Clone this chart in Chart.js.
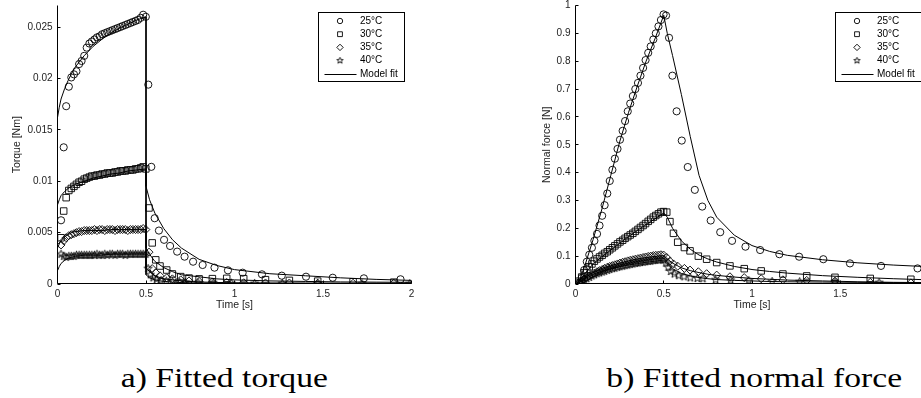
<!DOCTYPE html>
<html>
<head>
<meta charset="utf-8">
<script src="https://cdn.jsdelivr.net/npm/chart.js@4.4.1/dist/chart.umd.min.js"></script>
<style>
  html, body { margin: 0; padding: 0; background: #fff; }
  #wrap { position: relative; width: 921px; height: 398px; overflow: hidden; background: #fff; }
  canvas { position: absolute; top: -2px; }
  #torqueChart { left: 0; }
  #forceChart { left: 470px; }
  .caption {
    position: absolute; top: 364px; height: 28px; line-height: 28px;
    font-family: 'Liberation Serif', 'Times New Roman', serif; font-size: 28px; color: #000;
    white-space: nowrap; transform: scaleX(1.2); transform-origin: center;
  }
</style>
</head>
<body>
<div id="wrap">
  <canvas id="torqueChart" width="470" height="322"></canvas>
  <canvas id="forceChart" width="470" height="322"></canvas>
  <div class="caption" id="capA">a) Fitted torque</div>
  <div class="caption" id="capB">b) Fitted normal force</div>
</div>
<script>
// --- datos ---
const seriesLabels = ['25°C', '30°C', '35°C', '40°C'];
const xTicks = [0, 0.5, 1, 1.5, 2];

// tiempos de carga (comunes) y de relajación (por temperatura)
const loadT = [0.02, 0.035, 0.049, 0.064, 0.078, 0.093, 0.107, 0.122, 0.136, 0.151, 0.165, 0.18, 0.194, 0.209, 0.223, 0.238, 0.252,
  0.267, 0.281, 0.296, 0.31, 0.325, 0.339, 0.354, 0.368, 0.383, 0.397, 0.412, 0.426, 0.441, 0.455, 0.47, 0.484, 0.499];
const decayT25 = [0.513, 0.53, 0.549, 0.573, 0.602, 0.636, 0.676, 0.718, 0.766, 0.82, 0.887, 0.963, 1.046, 1.155, 1.267, 1.404, 1.555, 1.731, 1.938];
const decayT30 = [0.517, 0.535, 0.555, 0.579, 0.617, 0.649, 0.696, 0.743, 0.8, 0.875, 0.956, 1.052, 1.175, 1.31, 1.47, 1.67, 1.9];
const decayT35 = [0.517, 0.535, 0.555, 0.579, 0.617, 0.649, 0.696, 0.743, 0.8, 0.875, 0.956, 1.052, 1.175, 1.31, 1.47, 1.67, 1.9];
const decayT40 = [0.512, 0.525, 0.54, 0.56, 0.585, 0.615, 0.65, 0.69, 0.722, 0.794, 0.879, 0.982, 1.114, 1.27, 1.47, 1.72, 1.99];

// a) torque [Nm]
const torque25Load = [0.0062, 0.0133, 0.0173, 0.0192, 0.0201, 0.0204, 0.0207, 0.0214, 0.0217, 0.0222, 0.0230, 0.0234, 0.0236, 0.0238, 0.0240, 0.0241, 0.0243,
  0.0244, 0.0245, 0.0246, 0.0247, 0.0248, 0.0249, 0.0250, 0.0251, 0.0252, 0.0253, 0.0254, 0.0255, 0.0256, 0.0257, 0.0259, 0.0262, 0.0260];
const torque25Decay = [0.0194, 0.0114, 0.0064, 0.0052, 0.0043, 0.0037, 0.00315, 0.00266, 0.00217, 0.00185, 0.00159, 0.00133, 0.0011, 0.00094, 0.00081, 0.00071, 0.00061, 0.00055, 0.00046];
const torque30Load = [0.0045, 0.0071, 0.0084, 0.0091, 0.0093, 0.0095, 0.0097, 0.0099, 0.0100, 0.0102, 0.0103, 0.0104, 0.0105, 0.0105, 0.0106, 0.0106, 0.0107,
  0.0107, 0.0108, 0.0108, 0.0108, 0.0109, 0.0109, 0.0110, 0.0110, 0.0110, 0.0111, 0.0111, 0.0111, 0.0112, 0.0112, 0.0113, 0.0114, 0.0112];
const torque30Decay = [0.0074, 0.0040, 0.00235, 0.00175, 0.00136, 0.00098, 0.00072, 0.00058, 0.0005, 0.00052, 0.00055, 0.00052, 0.00042, 0.00035, 0.00028, 0.00022, 0.00018];
const torque35Load = [0.0038, 0.0042, 0.0045, 0.0047, 0.0048, 0.0049, 0.0050, 0.0051, 0.0051, 0.0052, 0.0052, 0.0052, 0.0052, 0.0053, 0.0052, 0.0053, 0.0053,
  0.0052, 0.0053, 0.0053, 0.0053, 0.0052, 0.0053, 0.0053, 0.0053, 0.0053, 0.0052, 0.0053, 0.0053, 0.0053, 0.0053, 0.0053, 0.0054, 0.0053];
const torque35Decay = [0.0031, 0.0015, 0.0011, 0.0008, 0.0006, 0.0005, 0.0004, 0.0003, 0.00025, 0.0002, 0.00015, 0.00012, 0.0001, 0.0001, 0.00008, 0.00007, 0.00007];
const torque40Load = [0.0029, 0.0027, 0.0026, 0.0027, 0.0027, 0.0027, 0.0028, 0.0028, 0.0028, 0.0028, 0.0028, 0.0028, 0.0028, 0.0028, 0.0029, 0.0028, 0.0028,
  0.0029, 0.0028, 0.0029, 0.0029, 0.0028, 0.0029, 0.0029, 0.0029, 0.0028, 0.0029, 0.0029, 0.0029, 0.0029, 0.0029, 0.0029, 0.0029, 0.0029];
const torque40Decay = [0.0015, 0.0009, 0.0006, 0.00045, 0.00035, 0.00028, 0.00022, 0.00018, 0.00015, 0.00012, 0.0001, 0.00008, 0.00006, 0.00005, 0.00004, 0.00003, 0.00003];

// ajuste del modelo (torque)
const fitTorqueT = [0, 0.01, 0.02, 0.04, 0.06, 0.08, 0.1, 0.15, 0.2, 0.25, 0.3, 0.35, 0.4, 0.45, 0.5, 0.5, 0.52, 0.55, 0.6, 0.65, 0.7, 0.8, 0.9, 1.0, 1.2, 1.4, 1.6, 1.8, 2.0];
const fitTorque25 = [0.0162, 0.0172, 0.0180, 0.0190, 0.0198, 0.0205, 0.0211, 0.0222, 0.0231, 0.0238, 0.0244, 0.0249, 0.0253, 0.0257, 0.0260,
  0.0095, 0.0082, 0.0069, 0.0054, 0.0043, 0.0035, 0.0024, 0.0018, 0.0014, 0.0010, 0.0008, 0.0006, 0.00045, 0.00035];
const fitTorque30 = [0.0077, 0.0082, 0.0086, 0.0090, 0.0093, 0.0095, 0.0097, 0.0100, 0.0103, 0.0105, 0.0107, 0.0108, 0.0110, 0.0111, 0.0112,
  0.0035, 0.0029, 0.0022, 0.0016, 0.0012, 0.0009, 0.0007, 0.0005, 0.0004, 0.0003, 0.00025, 0.0002, 0.00018, 0.00016];
const fitTorque35 = [0.0035, 0.0039, 0.0042, 0.0046, 0.0048, 0.0050, 0.0051, 0.0052, 0.0052, 0.0052, 0.0053, 0.0053, 0.0053, 0.0053, 0.0053,
  0.0016, 0.0012, 0.0008, 0.0005, 0.0004, 0.0003, 0.0002, 0.00015, 0.00012, 0.0001, 0.0001, 0.00008, 0.00008, 0.00007];
const fitTorque40 = [0.0013, 0.0017, 0.0020, 0.0023, 0.0025, 0.0026, 0.0027, 0.0028, 0.0028, 0.0028, 0.0029, 0.0029, 0.0029, 0.0029, 0.0029,
  0.0009, 0.0006, 0.0004, 0.00025, 0.00018, 0.00014, 0.0001, 0.00008, 0.00007, 0.00006, 0.00005, 0.00005, 0.00004, 0.00004];

// b) fuerza normal [N]
const force25Load = [0.005, 0.022, 0.05, 0.08, 0.105, 0.13, 0.155, 0.18, 0.21, 0.245, 0.283, 0.325, 0.37, 0.41, 0.45, 0.485, 0.518,
  0.55, 0.585, 0.62, 0.648, 0.675, 0.70, 0.722, 0.748, 0.776, 0.804, 0.83, 0.853, 0.878, 0.90, 0.925, 0.948, 0.968];
const force25Decay = [0.964, 0.884, 0.748, 0.62, 0.515, 0.42, 0.338, 0.278, 0.228, 0.186, 0.155, 0.134, 0.122, 0.107, 0.098, 0.089, 0.074, 0.065, 0.056];
const force30Load = [0.01, 0.025, 0.04, 0.052, 0.062, 0.072, 0.082, 0.09, 0.097, 0.103, 0.11, 0.116, 0.123, 0.13, 0.137, 0.144, 0.151,
  0.157, 0.164, 0.17, 0.176, 0.182, 0.189, 0.196, 0.203, 0.21, 0.217, 0.225, 0.232, 0.24, 0.246, 0.252, 0.258, 0.26];
const force30Decay = [0.258, 0.224, 0.182, 0.15, 0.131, 0.119, 0.10, 0.089, 0.077, 0.065, 0.055, 0.047, 0.036, 0.029, 0.024, 0.02, 0.017];
const force35Load = [0.003, 0.01, 0.017, 0.023, 0.029, 0.034, 0.039, 0.044, 0.048, 0.052, 0.056, 0.06, 0.063, 0.066, 0.069, 0.072, 0.075,
  0.078, 0.08, 0.083, 0.085, 0.087, 0.089, 0.091, 0.093, 0.095, 0.097, 0.099, 0.1, 0.102, 0.103, 0.104, 0.105, 0.104];
const force35Decay = [0.095, 0.082, 0.072, 0.064, 0.056, 0.05, 0.044, 0.037, 0.032, 0.026, 0.023, 0.019, 0.015, 0.013, 0.01, 0.006, 0.004];
const force40Load = [0.002, 0.008, 0.014, 0.019, 0.024, 0.029, 0.033, 0.037, 0.04, 0.043, 0.046, 0.049, 0.052, 0.055, 0.057, 0.06, 0.062,
  0.064, 0.066, 0.068, 0.07, 0.072, 0.074, 0.075, 0.077, 0.078, 0.08, 0.081, 0.082, 0.084, 0.085, 0.086, 0.087, 0.086];
const force40Decay = [0.075, 0.06, 0.045, 0.036, 0.03, 0.026, 0.022, 0.02, 0.019, 0.015, 0.014, 0.012, 0.009, 0.008, 0.008, 0.005, 0.004];

// ajuste del modelo (fuerza normal)
const fitForceT = [0, 0.02, 0.05, 0.1, 0.15, 0.2, 0.25, 0.3, 0.35, 0.4, 0.45, 0.5, 0.52, 0.55, 0.6, 0.65, 0.7, 0.75, 0.8, 0.9, 1.0, 1.1, 1.2, 1.4, 1.6, 1.8, 2.0];
const fitForce25 = [0, 0.01, 0.06, 0.16, 0.27, 0.39, 0.51, 0.615, 0.71, 0.80, 0.88, 0.965, 0.90, 0.82, 0.68, 0.53, 0.39, 0.30, 0.24, 0.175, 0.138, 0.117, 0.103, 0.087, 0.076, 0.068, 0.062];
const fitForce30 = [0, 0.008, 0.035, 0.072, 0.098, 0.122, 0.146, 0.17, 0.192, 0.213, 0.234, 0.255, 0.24, 0.2, 0.155, 0.125, 0.104, 0.09, 0.079, 0.063, 0.052, 0.045, 0.039, 0.03, 0.024, 0.019, 0.015];
const fitForce35 = [0, 0.005, 0.02, 0.042, 0.056, 0.066, 0.075, 0.083, 0.09, 0.095, 0.099, 0.102, 0.09, 0.075, 0.058, 0.048, 0.041, 0.035, 0.031, 0.025, 0.02, 0.017, 0.014, 0.011, 0.008, 0.006, 0.005];
const fitForce40 = [0, 0.004, 0.017, 0.034, 0.046, 0.055, 0.062, 0.068, 0.073, 0.078, 0.082, 0.086, 0.072, 0.055, 0.038, 0.029, 0.023, 0.019, 0.016, 0.013, 0.011, 0.009, 0.008, 0.007, 0.006, 0.005, 0.004];

Chart.defaults.font.family = "'Liberation Sans', Arial, sans-serif";
Chart.defaults.font.size = 10;
Chart.defaults.color = '#222';

// estrella de 5 puntas (marcador 'p' de MATLAB)
function makeStar(r) {
    const c = document.createElement('canvas');
    const s = Math.ceil(2 * r + 2);
    c.width = s; c.height = s;
    const g = c.getContext('2d');
    g.strokeStyle = '#000';
    g.lineWidth = 0.9;
    g.beginPath();
    for (let k = 0; k < 10; k++) {
        const rad = k % 2 ? r * 0.42 : r;
        const ang = -Math.PI / 2 + k * Math.PI / 5;
        const px = s / 2 + rad * Math.cos(ang), py = s / 2 + rad * Math.sin(ang);
        if (k) g.lineTo(px, py); else g.moveTo(px, py);
    }
    g.closePath();
    g.stroke();
    return c;
}

const starBig = makeStar(4.2);
const starSmall = makeStar(3.3);
const markerStyles = [
    { pointStyle: 'circle', radius: 3.6, legendStyle: 'circle', legendRadius: 2.7 },
    { pointStyle: 'rect', radius: 4.6, legendStyle: 'rect', legendRadius: 3.4 },
    { pointStyle: 'rectRot', radius: 4, legendStyle: 'rectRot', legendRadius: 3.2 },
    { pointStyle: starBig, radius: 4, legendStyle: starSmall, legendRadius: 3 }
];

const toPoints = (ts, vs) => ts.map((t, i) => ({ x: t, y: vs[i] }));

function buildDatasets(markers, fits, fitT) {
    const ds = markers.map((pts, i) => ({
        label: seriesLabels[i],
        data: pts,
        showLine: false,
        pointStyle: markerStyles[i].pointStyle,
        pointRadius: markerStyles[i].radius,
        pointBorderWidth: 0.9,
        pointBorderColor: '#000',
        pointBackgroundColor: 'rgba(0,0,0,0)',
        legendStyle: markerStyles[i].legendStyle,
        legendRadius: markerStyles[i].legendRadius
    }));
    fits.forEach(vals => ds.push({
        label: 'Model fit',
        data: toPoints(fitT, vals),
        showLine: true,
        pointRadius: 0,
        borderColor: '#000',
        borderWidth: 1,
        tension: 0,
        fill: false
    }));
    return ds;
}

// ejes estilo MATLAB: solo izquierda/abajo, marcas hacia dentro, leyenda en caja
const matlabAxes = {
    id: 'matlabAxes',
    afterDatasetsDraw(chart) {
        const { ctx, chartArea: a, scales: { x, y } } = chart;
        const left = Math.round(a.left - 0.5) + 0.5;
        const bottom = Math.floor(a.bottom) - 0.5;
        ctx.save();
        ctx.strokeStyle = '#000';
        ctx.lineWidth = 1;
        ctx.beginPath();
        ctx.moveTo(left, a.top);
        ctx.lineTo(left, bottom);
        ctx.lineTo(a.right, bottom);
        x.ticks.forEach(t => {
            const px = Math.round(x.getPixelForValue(t.value) - 0.5) + 0.5;
            ctx.moveTo(px, bottom);
            ctx.lineTo(px, bottom - 3);
        });
        y.ticks.forEach(t => {
            const py = Math.round(y.getPixelForValue(t.value) - 0.5) + 0.5;
            ctx.moveTo(left, py);
            ctx.lineTo(left + 3, py);
        });
        ctx.stroke();

        // leyenda
        const w = 86, h = 69;
        const bx = Math.round(a.right - 8 - w) + 0.5, by = Math.round(a.top + 6) + 0.5;
        ctx.fillStyle = '#fff';
        ctx.fillRect(bx, by, w, h);
        ctx.strokeRect(bx, by, w, h);
        ctx.font = "10px 'Liberation Sans', Arial, sans-serif";
        ctx.textBaseline = 'middle';
        ctx.textAlign = 'left';
        const sets = chart.data.datasets;
        for (let i = 0; i < 4; i++) {
            const ry = by + 8.5 + 13.2 * i;
            ctx.fillStyle = 'rgba(0,0,0,0)';
            ctx.strokeStyle = '#000';
            ctx.lineWidth = 0.9;
            Chart.helpers.drawPoint(ctx, { pointStyle: sets[i].legendStyle, radius: sets[i].legendRadius, rotation: 0, borderWidth: 0.9 }, bx + 21.5, ry);
            ctx.fillStyle = '#000';
            ctx.fillText(sets[i].label, bx + 41.5, ry);
        }
        const ly = Math.round(by + 8.5 + 13.2 * 4) + 0.5;
        ctx.strokeStyle = '#000';
        ctx.lineWidth = 1;
        ctx.beginPath();
        ctx.moveTo(bx + 6, ly);
        ctx.lineTo(bx + 38, ly);
        ctx.stroke();
        ctx.fillStyle = '#000';
        ctx.fillText('Model fit', bx + 41.5, ly);
        ctx.restore();
    }
};

const fmt = v => String(+Number(v).toFixed(4));

function makeChart(id, datasets, yOpts, yTitle, yWidth, pad) {
    return new Chart(document.getElementById(id), {
        type: 'scatter',
        data: { datasets },
        options: {
            responsive: false,
            animation: false,
            devicePixelRatio: 1,
            layout: { padding: pad },
            plugins: { legend: { display: false }, tooltip: { enabled: false } },
            scales: {
                x: {
                    type: 'linear', min: 0, max: 2,
                    afterBuildTicks: s => { s.ticks = xTicks.map(v => ({ value: v })); },
                    afterFit: s => { s.height = 36; },
                    grid: { display: false, drawTicks: false },
                    border: { display: false },
                    ticks: { padding: 4, callback: fmt, maxRotation: 0, color: '#222' },
                    title: { display: true, text: 'Time [s]', font: { size: 10.5 }, color: '#222', padding: { top: 0, bottom: 9 } }
                },
                y: Object.assign({
                    type: 'linear', min: 0,
                    afterFit: s => { s.width = yWidth; },
                    grid: { display: false, drawTicks: false },
                    border: { display: false },
                    title: { display: true, text: yTitle, font: { size: 10.5 }, color: '#222', padding: { top: 10.7, bottom: 0 } }
                }, yOpts)
            }
        },
        plugins: [matlabAxes]
    });
}

makeChart('torqueChart',
    buildDatasets([
        toPoints(loadT.concat(decayT25), torque25Load.concat(torque25Decay)),
        toPoints(loadT.concat(decayT30), torque30Load.concat(torque30Decay)),
        toPoints(loadT.concat(decayT35), torque35Load.concat(torque35Decay)),
        toPoints(loadT.concat(decayT40), torque40Load.concat(torque40Decay))
    ], [fitTorque25, fitTorque30, fitTorque35, fitTorque40], fitTorqueT),
    { max: 0.0271, ticks: { stepSize: 0.005, includeBounds: false, padding: 5, callback: fmt, color: '#222', font: { lineHeight: 0.5 } } },
    'Torque [Nm]', 57.5, { top: 4.5, left: 0, right: 58.5, bottom: 0 });

makeChart('forceChart',
    buildDatasets([
        toPoints(loadT.concat(decayT25), force25Load.concat(force25Decay)),
        toPoints(loadT.concat(decayT30), force30Load.concat(force30Decay)),
        toPoints(loadT.concat(decayT35), force35Load.concat(force35Decay)),
        toPoints(loadT.concat(decayT40), force40Load.concat(force40Decay))
    ], [fitForce25, fitForce30, fitForce35, fitForce40], fitForceT),
    { max: 1, ticks: { stepSize: 0.1, padding: 5, callback: fmt, color: '#222', font: { lineHeight: 0.5 } } },
    'Normal force [N]', 45.5, { top: 4.5, left: 60, right: 11.5, bottom: 0 });

// centrar los pies de figura
function placeCaption(id, cx) {
    const el = document.getElementById(id);
    el.style.left = (cx - el.offsetWidth / 2) + 'px';
}
placeCaption('capA', 224);
placeCaption('capB', 754);
</script>
</body>
</html>
